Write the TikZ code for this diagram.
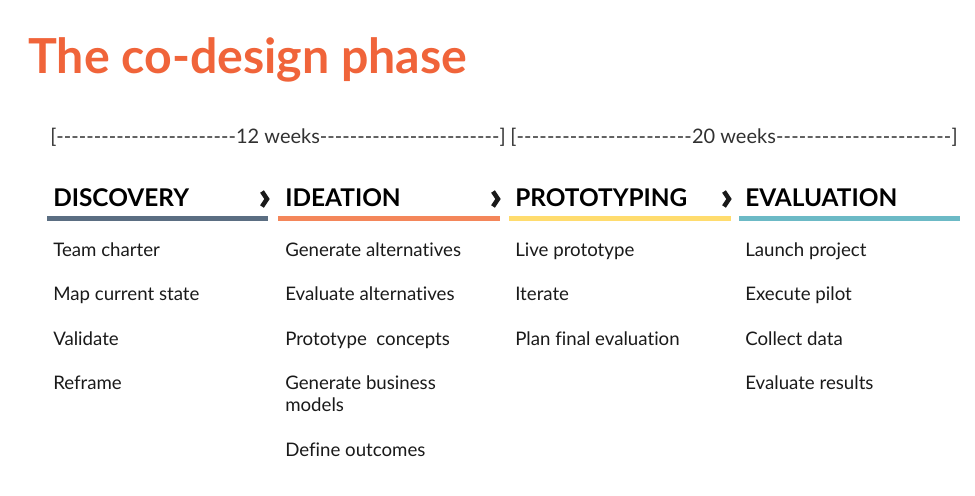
\documentclass[tikz,border=0pt]{standalone}
\usepackage{fontspec}
\setmainfont{Lato}[Ligatures=NoCommon]
\definecolor{titleorange}{HTML}{F0643A}
\definecolor{discblue}{HTML}{5B6E82}
\definecolor{ideaorange}{HTML}{F4865A}
\definecolor{protoyellow}{HTML}{FFDC6E}
\definecolor{evalteal}{HTML}{6CBAC6}
\definecolor{ink}{HTML}{1A1A1A}
\tikzset{
  head/.style={anchor=base west,inner sep=0,text=black,font=\fontsize{18.3}{22}\selectfont\bfseries},
  item/.style={anchor=base west,inner sep=0,text=ink,align=left,font=\fontsize{14}{16.5}\selectfont},
  weeks/.style={anchor=base west,inner sep=0,text=ink!90,font=\fontsize{15}{17}\selectfont},
  chev/.style={line width=3.4pt,miter limit=10,ink}
}
\begin{document}
\begin{tikzpicture}[x=0.75pt,y=-0.75pt]
\useasboundingbox (0,0) rectangle (975,496);
\node[anchor=base west,inner sep=0,text=titleorange,font=\fontsize{36.2}{40}\selectfont\bfseries] (title) at (28,73) {The co-design phase};
% time spans
\node[weeks] (span12) at (50,143) {\makebox[341.25pt]{[\xleaders\hbox{-}\hfill 12 weeks\xleaders\hbox{-}\hfill]}};
\node[weeks] (span20) at (510,143) {\makebox[335.25pt]{[\xleaders\hbox{-}\hfill 20 weeks\xleaders\hbox{-}\hfill]}};
% phase headers
\node[head] (discovery) at (53,206) {DISCOVERY};
\node[head] (ideation) at (285,206) {IDEATION};
\node[head] (prototyping) at (515,206) {PROTOTYPING};
\node[head] (evaluation) at (745,206) {EVALUATION};
\draw[chev] (262,191.5) -- (267,199) -- (262,206.5);
\draw[chev] (493,191.5) -- (498,199) -- (493,206.5);
\draw[chev] (724,191.5) -- (729,199) -- (724,206.5);
\fill[discblue] (47,216) rectangle (268,221);
\fill[ideaorange] (278,216) rectangle (500,221);
\fill[protoyellow] (509,216) rectangle (731,221);
\fill[evalteal] (739,216) rectangle (960,221);
% discovery
\node[item] (teamcharter) at (53,256) {Team charter};
\node[item] (mapstate) at (53,300.5) {Map current state};
\node[item] (validate) at (53,345) {Validate};
\node[item] (reframe) at (53,389.5) {Reframe};
% ideation
\node[item] (genalt) at (285,256) {Generate alternatives};
\node[item] (evalalt) at (285,300.5) {Evaluate alternatives};
\node[item] (protoconc) at (285,345) {Prototype\ \ concepts};
\node[item] (genbiz) at (285,411.5) {Generate business\\models};
\node[item] (outcomes) at (285,456) {Define outcomes};
% prototyping
\node[item] (liveproto) at (515,256) {Live prototype};
\node[item] (iterate) at (515,300.5) {Iterate};
\node[item] (planeval) at (515,345) {Plan final evaluation};
% evaluation
\node[item] (launch) at (745,256) {Launch project};
\node[item] (pilot) at (745,300.5) {Execute pilot};
\node[item] (collect) at (745,345) {Collect data};
\node[item] (results) at (745,389.5) {Evaluate results};
\end{tikzpicture}
\end{document}
